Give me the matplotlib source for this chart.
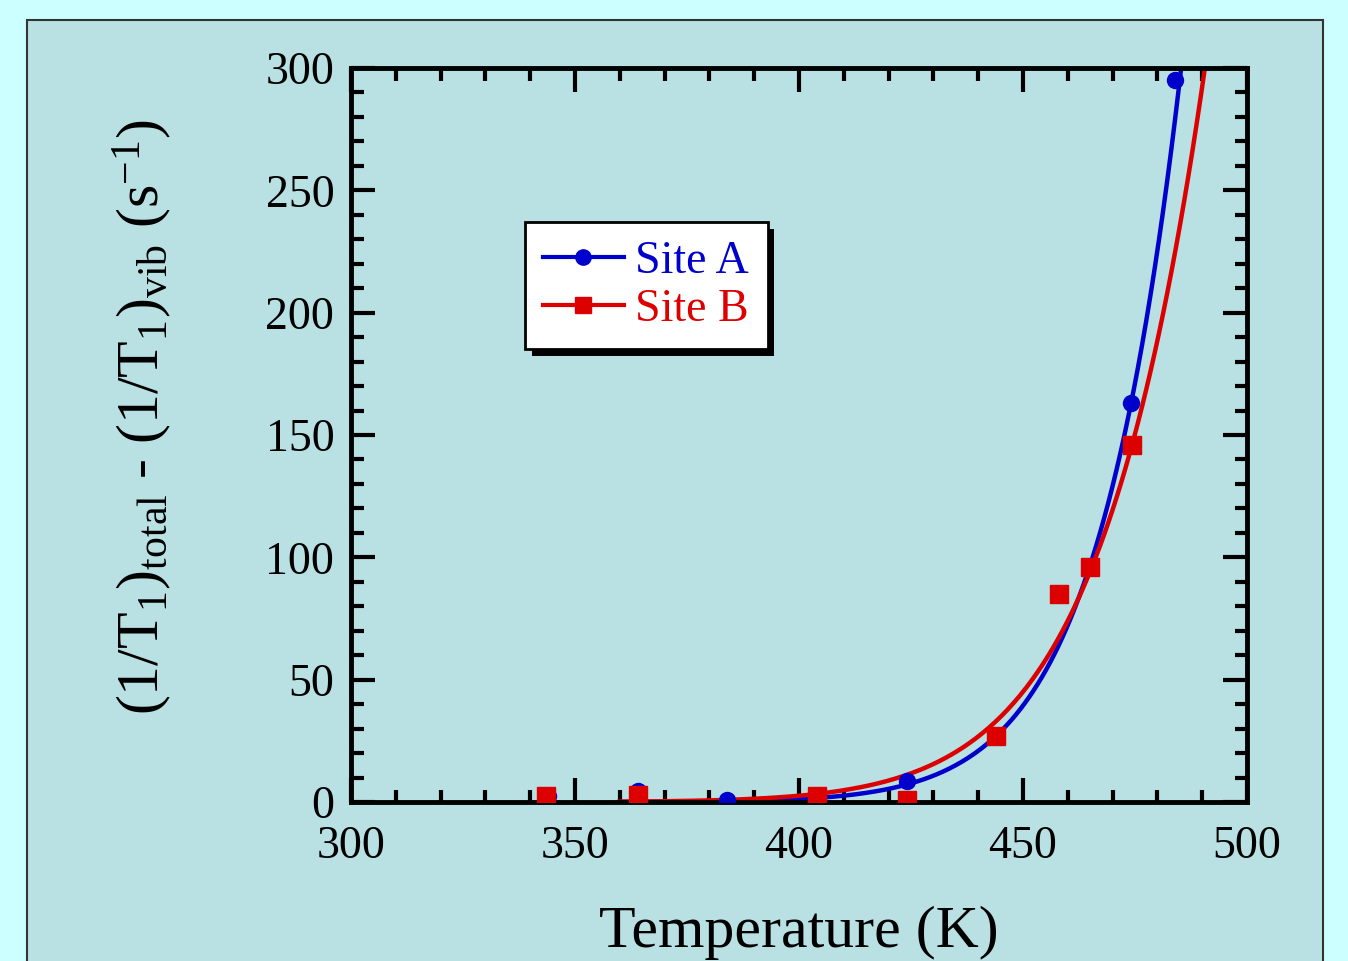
import numpy as np
import matplotlib
matplotlib.use('Agg')
import matplotlib.pyplot as plt
from matplotlib.patches import Rectangle
from matplotlib.ticker import MultipleLocator
import matplotlib.patheffects as pe

# ---------------- data ----------------
tempA = [344, 364, 384, 404, 424, 444, 474, 484]
rateA = [2.5, 4.5, 1.0, 2.5, 8.5, 27, 163, 295]
tempB = [343.5, 364, 404, 424, 444, 458, 465, 474.3]
rateB = [2.5, 3.0, 2.5, 1.0, 27, 85, 96, 146]

# Arrhenius fit parameters (rate = pre * exp(-Ea/T)), estimated from the curves
EaA, refA = 12560.0, (485.3, 300.0)
EaB, refB = 10310.0, (490.6, 300.0)

fit_T = np.linspace(360, 500, 300)
fitA = refA[1] * np.exp(-EaA * (1 / fit_T - 1 / refA[0]))
fitB = refB[1] * np.exp(-EaB * (1 / fit_T - 1 / refB[0]))

# ---------------- styling ----------------
plt.rcParams['font.family'] = 'Liberation Serif'
plt.rcParams['mathtext.fontset'] = 'custom'
plt.rcParams['mathtext.rm'] = 'Liberation Serif'
plt.rcParams['mathtext.it'] = 'Liberation Serif'

blue = '#0000cc'
red = '#dd0000'

fig = plt.figure(figsize=(13.48, 9.61), dpi=100)
fig.patch.set_facecolor('#ccffff')
# inner panel
panel = Rectangle((27 / 1348, -0.05), (1323 - 27) / 1348, 1 - 20 / 961 + 0.05,
                  transform=fig.transFigure, facecolor='#b9e0e3',
                  edgecolor='#333333', linewidth=1.5, zorder=-10)
fig.add_artist(panel)

ax = fig.add_axes([351 / 1348, 1 - 802 / 961, (1247 - 351) / 1348, (802 - 68) / 961])
ax.set_zorder(1)
ax.set_facecolor('#b9e0e3')

ax.plot(fit_T, fitA, color=blue, lw=3.2, zorder=2)
ax.plot(fit_T, fitB, color=red, lw=3.2, zorder=2)
ax.plot(tempA, rateA, 'o', color=blue, ms=11.5, zorder=3)
ax.plot(tempB, rateB, 's', color=red, ms=12.5, zorder=4)

ax.set_xlim(300, 500)
ax.set_ylim(0, 300)
ax.xaxis.set_major_locator(MultipleLocator(50))
ax.xaxis.set_minor_locator(MultipleLocator(10))
ax.yaxis.set_major_locator(MultipleLocator(50))
ax.yaxis.set_minor_locator(MultipleLocator(10))
ax.tick_params(which='both', direction='in', top=True, right=True, width=3,
               labelsize=33)
ax.tick_params(axis='x', pad=17)
ax.tick_params(axis='y', pad=12)
ax.tick_params(which='major', length=17)
ax.tick_params(which='minor', length=9)
for s in ax.spines.values():
    s.set_linewidth(3.5)

ax.set_xlabel('Temperature (K)', fontsize=43, labelpad=27)
ax.set_ylabel(r'(1/T$_1$)$_{\rm total}$ - (1/T$_1$)$_{\rm vib}$ (s$^{-1}$)',
              fontsize=43, labelpad=57)
ax.yaxis.set_label_coords(-0.197, 0.525)

# legend with black drop shadow
line_a, = ax.plot([], [], '-o', color=blue, lw=3, ms=11)
line_b, = ax.plot([], [], '-s', color=red, lw=3, ms=11)
leg = ax.legend([line_a, line_b], ['Site A', 'Site B'], loc='upper left',
                bbox_to_anchor=((525 - 351) / 896, (802 - 222) / 734),
                fontsize=33, frameon=True, fancybox=False, shadow=False,
                handlelength=1.75, handletextpad=0.26, borderpad=0.4,
                labelspacing=0.12, borderaxespad=0)
frame = leg.get_frame()
frame.set_edgecolor('black')
frame.set_linewidth(2)
frame.set_facecolor('white')
frame.set_alpha(1)
frame.set_path_effects([pe.SimplePatchShadow(offset=(5, -5), shadow_rgbFace='black', alpha=1),
                        pe.Normal()])
for txt, c in zip(leg.get_texts(), [blue, red]):
    txt.set_color(c)

fig.savefig('out.png', dpi=100, facecolor=fig.get_facecolor())
